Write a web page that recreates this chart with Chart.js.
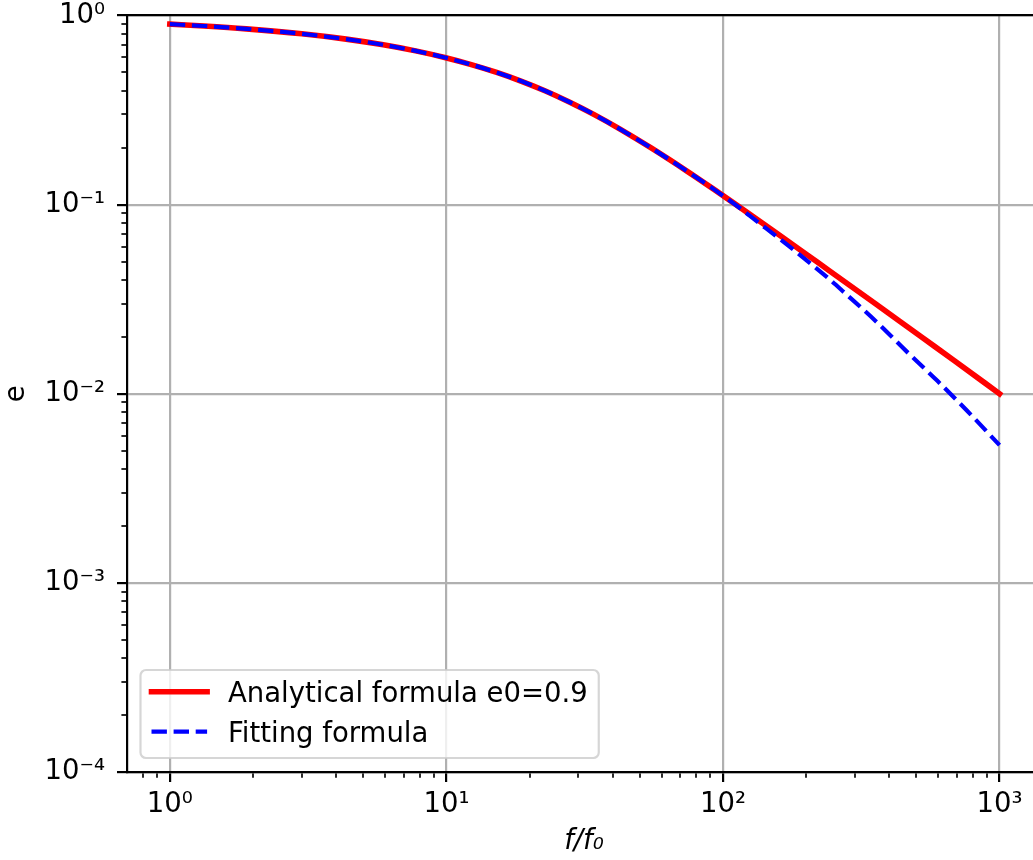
<!DOCTYPE html>
<html>
<head>
<meta charset="utf-8">
<script src="https://cdn.jsdelivr.net/npm/chart.js@4/dist/chart.umd.min.js"></script>
<style>
html,body{margin:0;padding:0;overflow:hidden;background:#fff;}
canvas{display:block;}
</style>
</head>
<body>
<canvas id="c" width="1041" height="860"></canvas>
<script>
// ---- data ----
const analyticalX = [1, 1.33, 1.89, 3.0, 4.34, 5.91, 7.74, 9.86, 12.3, 15.2, 18.6, 22.7, 27.7, 34.1, 42.6, 54.8, 74.3, 93.1, 111.5, 158, 218, 355, 521, 685, 1000];
const analyticalE = [0.9, 0.88, 0.85, 0.8, 0.75, 0.7, 0.65, 0.6, 0.55, 0.5, 0.45, 0.4, 0.35, 0.3, 0.25, 0.2, 0.15, 0.12, 0.1, 0.07, 0.05, 0.03, 0.02, 0.015, 0.01];
const fittingX = [1, 1.33, 1.89, 3.0, 4.34, 5.91, 7.74, 9.86, 12.3, 15.2, 18.6, 22.7, 27.7, 34.1, 42.6, 54.8, 74.3, 93.1, 115, 132, 156, 181, 208, 239, 274, 357, 464, 596, 765, 1000];
const fittingE = [0.9, 0.88, 0.85, 0.8, 0.75, 0.7, 0.65, 0.6, 0.55, 0.5, 0.45, 0.4, 0.35, 0.3, 0.25, 0.2, 0.15, 0.12, 0.096, 0.082, 0.068, 0.0573, 0.0486, 0.0411, 0.0344, 0.0242, 0.0166, 0.0117, 0.0081, 0.00535];
const seriesLabels = ['Analytical formula e0=0.9', 'Fitting formula'];
const xMajorTicks = [1, 10, 100, 1000];
const xTickLabels = ['10\u2070', '10\u00B9', '10\u00B2', '10\u00B3'];
const yMajorTicks = [1e-4, 1e-3, 1e-2, 1e-1, 1];
const yTickLabels = ['10\u207B\u2074', '10\u207B\u00B3', '10\u207B\u00B2', '10\u207B\u00B9', '10\u2070'];
const xAxisTitle = 'f/f\u2080';
const yAxisTitle = 'e';
const xRange = [0.708, 1412.5];
const yRange = [1e-4, 1];

// ---- helpers ----
const FONT = '"DejaVu Sans", sans-serif';
const FS = 27.5;
const isMajorVal = (v, majors) => majors.some(m => Math.abs(Math.log10(v) - Math.log10(m)) < 1e-6);
function logTicks(majors, lo, hi) {
  const out = [];
  const d0 = Math.floor(Math.log10(lo)), d1 = Math.ceil(Math.log10(hi));
  for (let d = d0; d <= d1; d++) {
    for (let k = 1; k <= 9; k++) {
      const v = k * Math.pow(10, d);
      if (v >= lo * 0.9999 && v <= hi * 1.0001) out.push({value: v, major: isMajorVal(v, majors)});
    }
  }
  return out;
}
function labelFor(v, majors, labels) {
  for (let i = 0; i < majors.length; i++) {
    if (Math.abs(Math.log10(v) - Math.log10(majors[i])) < 1e-6) return labels[i];
  }
  return '';
}
const isMaj = ctx => !!(ctx.tick && ctx.tick.major);

const legendPlugin = {
  id: 'mplLegend',
  afterDatasetsDraw(chart) {
    const {ctx, chartArea: ca} = chart;
    const ds = chart.data.datasets;
    ctx.save();
    ctx.font = FS + 'px ' + FONT;
    const bh = 88;
    const bx = ca.left + 13.5, by = ca.bottom - 14 - bh;
    const textX = bx + 87.5;
    let maxW = 0;
    ds.forEach(d => { maxW = Math.max(maxW, ctx.measureText(d.label).width); });
    const bw = textX - bx + maxW + 11;
    ctx.beginPath();
    ctx.roundRect(bx, by, bw, bh, 5.5);
    ctx.fillStyle = 'rgba(255,255,255,0.8)';
    ctx.fill();
    ctx.strokeStyle = 'rgba(204,204,204,0.8)';
    ctx.lineWidth = 2.2;
    ctx.stroke();
    ds.forEach((d, i) => {
      const rowY = by + 21.7 + i * 40;
      ctx.beginPath();
      ctx.moveTo(bx + 11, rowY);
      ctx.lineTo(bx + 66.6, rowY);
      ctx.strokeStyle = d.borderColor;
      ctx.lineWidth = d.borderWidth;
      ctx.setLineDash(d.borderDash || []);
      ctx.lineCap = d.borderCapStyle || 'butt';
      ctx.stroke();
      ctx.setLineDash([]);
      ctx.fillStyle = '#000';
      ctx.textAlign = 'left';
      ctx.textBaseline = 'alphabetic';
      ctx.fillText(d.label, textX, rowY + 10.5);
    });
    ctx.restore();
  }
};

new Chart(document.getElementById('c'), {
  type: 'line',
  data: {
    datasets: [
      {
        label: seriesLabels[0],
        data: analyticalX.map((x, i) => ({x: x, y: analyticalE[i]})),
        borderColor: '#ff0000',
        borderWidth: 5.6,
        borderCapStyle: 'square',
        pointRadius: 0,
        fill: false,
        cubicInterpolationMode: 'monotone',
        order: 2
      },
      {
        label: seriesLabels[1],
        data: fittingX.map((x, i) => ({x: x, y: fittingE[i]})),
        borderColor: '#0000ff',
        borderWidth: 4.2,
        borderDash: [15.4, 6.7],
        borderCapStyle: 'butt',
        pointRadius: 0,
        fill: false,
        cubicInterpolationMode: 'monotone',
        order: 1
      }
    ]
  },
  options: {
    responsive: false,
    devicePixelRatio: 1,
    animation: false,
    layout: {padding: 0},
    plugins: {legend: {display: false}, tooltip: {enabled: false}},
    scales: {
      x: {
        type: 'logarithmic',
        position: 'bottom',
        min: xRange[0], max: xRange[1],
        afterBuildTicks: s => { s.ticks = logTicks(xMajorTicks, xRange[0], xRange[1]); },
        afterFit: s => { s.height = 88; s.paddingLeft = 0; s.paddingRight = 0; },
        ticks: {
          autoSkip: false, maxRotation: 0, minRotation: 0, padding: 6,
          color: '#000', font: {family: FONT, size: FS},
          callback: v => labelFor(v, xMajorTicks, xTickLabels)
        },
        grid: {
          color: ctx => isMaj(ctx) ? '#b0b0b0' : 'rgba(0,0,0,0)',
          lineWidth: ctx => isMaj(ctx) ? 2.2 : 0,
          drawTicks: true,
          tickLength: 10,
          tickColor: '#000',
          tickWidth: ctx => isMaj(ctx) ? 2.2 : 1.67,
          tickBorderDash: ctx => isMaj(ctx) ? [] : [4.5, 40],
          tickBorderDashOffset: 0
        },
        border: {display: true, color: '#000', width: 2.2, z: 1},
        title: {display: true, text: xAxisTitle, color: '#000', font: {family: FONT, size: FS, style: 'italic'}, padding: {top: 0, bottom: 2}}
      },
      xTop: {
        type: 'logarithmic',
        position: 'top',
        min: xRange[0], max: xRange[1],
        afterFit: s => { s.height = 15.5; s.paddingLeft = 0; s.paddingRight = 0; },
        ticks: {display: false},
        grid: {display: false, drawTicks: false},
        border: {display: true, color: '#000', width: 2.2, z: 1}
      },
      y: {
        type: 'logarithmic',
        position: 'left',
        min: yRange[0], max: yRange[1],
        afterBuildTicks: s => { s.ticks = logTicks(yMajorTicks, yRange[0], yRange[1]); },
        afterFit: s => { s.width = 127; s.paddingTop = 0; s.paddingBottom = 0; },
        ticks: {
          autoSkip: false, padding: 12,
          color: '#000', font: {family: FONT, size: FS},
          callback: v => labelFor(v, yMajorTicks, yTickLabels)
        },
        grid: {
          color: ctx => isMaj(ctx) ? '#b0b0b0' : 'rgba(0,0,0,0)',
          lineWidth: ctx => isMaj(ctx) ? 2.2 : 0,
          drawTicks: true,
          tickLength: 10,
          tickColor: '#000',
          tickWidth: ctx => isMaj(ctx) ? 2.2 : 1.67,
          tickBorderDash: ctx => isMaj(ctx) ? [] : [5, 40],
          tickBorderDashOffset: ctx => isMaj(ctx) ? 0 : 40.6
        },
        border: {display: true, color: '#000', width: 2.2, z: 1},
        title: {display: true, text: yAxisTitle, color: '#000', font: {family: FONT, size: FS}, padding: {top: 0, bottom: 0}}
      }
    }
  },
  plugins: [legendPlugin]
});
</script>
</body>
</html>
